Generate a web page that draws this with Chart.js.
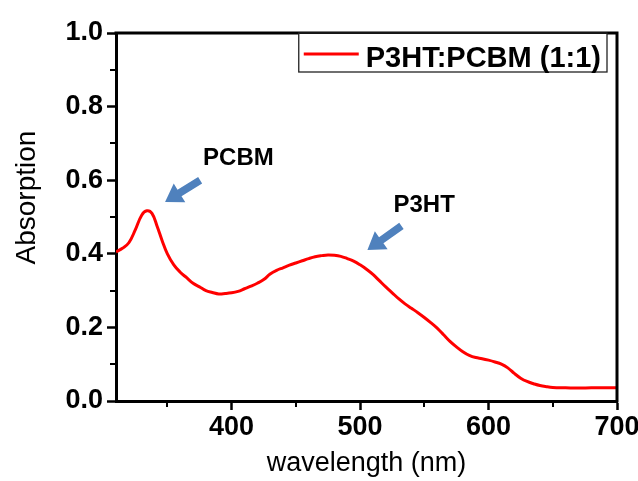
<!DOCTYPE html>
<html>
<head>
<meta charset="utf-8">
<script src="https://cdn.jsdelivr.net/npm/chart.js@4.4.1/dist/chart.umd.min.js"></script>
<style>
html,body{margin:0;padding:0;background:#fff;}
#wrap{width:638px;height:481px;position:relative;}
</style>
</head>
<body>
<div id="wrap"><canvas id="c" width="638" height="481"></canvas></div>
<script>
// ---- data ----
const wavelength = [310,315,320,325,330,334,338,342,346,350,355,360,365,370,375,380,385,390,395,400,
  405,410,415,420,425,430,435,440,445,450,455,460,465,470,475,480,485,490,495,500,
  505,510,515,520,525,530,535,540,545,550,555,560,565,570,575,580,585,590,595,600,
  605,610,615,620,625,630,635,640,645,650,660,670,680,690,700];
const absorption = [0.405,0.415,0.430,0.465,0.505,0.517,0.510,0.475,0.435,0.400,0.370,0.350,0.335,0.320,0.310,0.300,0.295,0.291,0.292,0.294,
  0.298,0.305,0.312,0.320,0.330,0.345,0.355,0.362,0.369,0.375,0.381,0.387,0.392,0.395,0.397,0.396,0.393,0.387,0.380,0.370,
  0.358,0.344,0.327,0.310,0.294,0.278,0.264,0.252,0.240,0.227,0.213,0.198,0.180,0.162,0.147,0.134,0.124,0.118,0.115,0.111,
  0.106,0.100,0.090,0.075,0.062,0.053,0.047,0.042,0.039,0.037,0.036,0.035,0.036,0.036,0.036];
const seriesLabel = 'P3HT:PCBM (1:1)';
const xTickValues = [400,500,600,700];
const xMinorTicks = [350,450,550,650];
const yTickValues = [0,0.2,0.4,0.6,0.8,1.0];
const yMinorTicks = [0.1,0.3,0.5,0.7,0.9];
const annotationLabels = ['PCBM','P3HT'];

// ---- annotation placement (data coordinates) ----
const annotationPlacement = [
  {text:[377.8,0.641], tail:[375.5,0.600], tip:[348.2,0.541]},
  {text:[526.0,0.513], tail:[532.2,0.476], tip:[505.7,0.410]}
];

const FONT = "'Liberation Sans', Arial, Helvetica, sans-serif";
const ARROW_COLOR = '#4f81bd';

function drawArrow(ctx,x0,y0,x1,y1){
  const dx=x1-x0, dy=y1-y0, L=Math.hypot(dx,dy);
  const ux=dx/L, uy=dy/L, nx=-uy, ny=ux;
  const sw=3.8, hw=11, hl=17;
  const bx=x1-ux*hl, by=y1-uy*hl;
  ctx.beginPath();
  ctx.moveTo(x0+nx*sw,y0+ny*sw);
  ctx.lineTo(bx+nx*sw,by+ny*sw);
  ctx.lineTo(bx+nx*hw,by+ny*hw);
  ctx.lineTo(x1,y1);
  ctx.lineTo(bx-nx*hw,by-ny*hw);
  ctx.lineTo(bx-nx*sw,by-ny*sw);
  ctx.lineTo(x0-nx*sw,y0-ny*sw);
  ctx.closePath();
  ctx.fill();
}

const decor = {
  id:'decor',
  afterDraw(chart){
    const {ctx, chartArea:a, scales:{x,y}} = chart;
    ctx.save();
    // frame: top and right
    ctx.strokeStyle='#000'; ctx.lineWidth=3; ctx.lineCap='square';
    ctx.beginPath();
    ctx.moveTo(a.left,a.top); ctx.lineTo(a.right,a.top); ctx.lineTo(a.right,a.bottom);
    ctx.stroke();
    // minor ticks
    ctx.lineWidth=2; ctx.lineCap='butt';
    xMinorTicks.forEach(v=>{const px=Math.round(x.getPixelForValue(v));
      ctx.beginPath(); ctx.moveTo(px,a.bottom); ctx.lineTo(px,a.bottom+6); ctx.stroke();});
    yMinorTicks.forEach(v=>{const py=Math.round(y.getPixelForValue(v));
      ctx.beginPath(); ctx.moveTo(a.left,py); ctx.lineTo(a.left-6,py); ctx.stroke();});
    // annotations
    annotationLabels.forEach((t,i)=>{
      const p=annotationPlacement[i];
      ctx.fillStyle=ARROW_COLOR;
      drawArrow(ctx,x.getPixelForValue(p.tail[0]),y.getPixelForValue(p.tail[1]),
                    x.getPixelForValue(p.tip[0]),y.getPixelForValue(p.tip[1]));
      ctx.fillStyle='#000';
      ctx.font=`bold 24px ${FONT}`;
      ctx.textAlign='left'; ctx.textBaseline='alphabetic';
      ctx.fillText(t,x.getPixelForValue(p.text[0]),y.getPixelForValue(p.text[1]));
    });
    // legend
    const ds=chart.data.datasets[0];
    ctx.font=`bold 29px ${FONT}`;
    const tw=ctx.measureText(ds.label).width;
    const padL=5, lineLen=55, gap=7, padR=6, boxH=39;
    const boxW=padL+lineLen+gap+tw+padR;
    const boxRight=a.right-10, boxTop=a.top;
    const boxLeft=boxRight-boxW;
    ctx.fillStyle='#fff';
    ctx.fillRect(boxLeft,boxTop+1,boxW,boxH-1);
    ctx.strokeStyle='#222'; ctx.lineWidth=1.3;
    ctx.strokeRect(boxLeft,boxTop,boxW,boxH);
    ctx.strokeStyle=ds.borderColor; ctx.lineWidth=3;
    ctx.beginPath(); ctx.moveTo(boxLeft+padL,boxTop+21); ctx.lineTo(boxLeft+padL+lineLen,boxTop+21); ctx.stroke();
    ctx.fillStyle='#000'; ctx.textAlign='left'; ctx.textBaseline='alphabetic';
    ctx.fillText(ds.label,boxLeft+padL+lineLen+gap,boxTop+34);
    ctx.restore();
  }
};

new Chart(document.getElementById('c'),{
  type:'line',
  data:{
    datasets:[{
      label:seriesLabel,
      data:wavelength.map((w,i)=>({x:w,y:absorption[i]})),
      borderColor:'#ff0000',
      borderWidth:3,
      pointRadius:0,
      tension:0.4,
      fill:false
    }]
  },
  options:{
    responsive:false,
    animation:false,
    devicePixelRatio:1,
    layout:{padding:{top:33,right:21,left:0,bottom:0}},
    plugins:{legend:{display:false},tooltip:{enabled:false}},
    scales:{
      x:{
        type:'linear',
        min:310,max:700,
        afterBuildTicks:s=>{s.ticks=xTickValues.map(v=>({value:v}));},
        afterFit:s=>{s.height=80;s.paddingLeft=0;s.paddingRight=0;},
        border:{display:true,width:3,color:'#000'},
        grid:{display:true,drawOnChartArea:false,drawTicks:true,tickLength:9,tickWidth:2.5,tickColor:'#000'},
        ticks:{autoSkip:false,maxRotation:0,color:'#000',padding:1,
               font:{family:FONT,size:27,weight:'bold'},
               callback:v=>String(v)},
        title:{display:true,text:'wavelength (nm)',color:'#000',
               font:{family:FONT,size:27,weight:'normal'},padding:{top:0,bottom:1}}
      },
      y:{
        min:0,max:1,
        afterBuildTicks:s=>{s.ticks=yTickValues.map(v=>({value:v}));},
        afterFit:s=>{s.width=116;s.paddingTop=0;s.paddingBottom=0;},
        border:{display:true,width:3,color:'#000'},
        grid:{display:true,drawOnChartArea:false,drawTicks:true,tickLength:9,tickWidth:2.5,tickColor:'#000'},
        ticks:{color:'#000',padding:4,font:{family:FONT,size:27,weight:'bold'},
               callback:v=>Number(v).toFixed(1)},
        title:{display:true,text:'     Absorption',color:'#000',
               font:{family:FONT,size:28,weight:'normal'},padding:{top:10,bottom:0}}
      }
    }
  },
  plugins:[decor]
});
</script>
</body>
</html>
